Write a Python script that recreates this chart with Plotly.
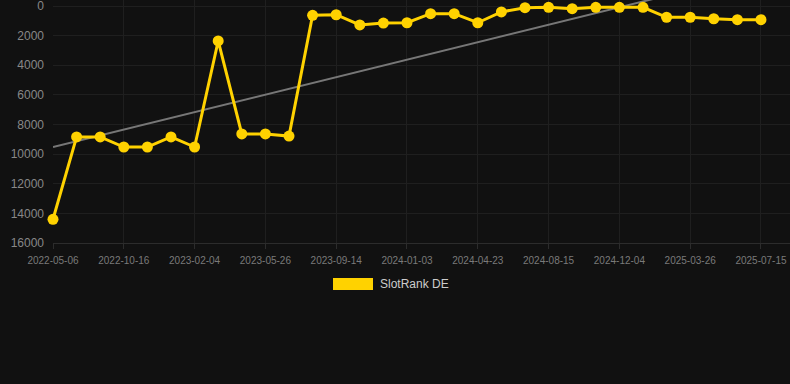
import plotly.graph_objects as go

# Data (SlotRank, lower = better; y axis reversed)
ranks = [14400, 8840, 8840, 9520, 9520, 8840, 9520, 2360, 8640, 8640,
         8780, 630, 590, 1280, 1150, 1130, 520, 520, 1130, 400,
         115, 90, 180, 90, 90, 90, 760, 760, 860, 925, 925]
tick_labels = ["2022-05-06", "2022-10-16", "2023-02-04", "2023-05-26",
               "2023-09-14", "2024-01-03", "2024-04-23", "2024-08-15",
               "2024-12-04", "2025-03-26", "2025-07-15"]
tick_step = 3
y_ticks = [0, 2000, 4000, 6000, 8000, 10000, 12000, 14000, 16000]
trend_start, trend_end = 9520, -2270
series_name = "SlotRank DE"

idx = list(range(len(ranks)))
tickvals = [i * tick_step for i in range(len(tick_labels))]

GOLD = "#FFD200"
BG = "#111111"
GRID = "#1f1f1f"

fig = go.Figure()
fig.add_trace(go.Scatter(
    x=[idx[0], idx[-1]], y=[trend_start, trend_end], mode="lines",
    line=dict(color="#777777", width=2), hoverinfo="skip", showlegend=False))
fig.add_trace(go.Scatter(
    x=idx, y=ranks, mode="lines+markers", name=series_name,
    line=dict(color=GOLD, width=3), marker=dict(color=GOLD, size=11),
    cliponaxis=False, showlegend=False))

# custom legend (filled box + label)
fig.add_shape(type="rect", xref="paper", yref="paper",
              x0=(333 - 53) / 737, x1=(373 - 53) / 737,
              y0=(243 - 290) / 243, y1=(243 - 278) / 243,
              fillcolor=GOLD, line=dict(width=0))
fig.add_annotation(text=series_name, xref="paper", yref="paper",
                   x=(378 - 53) / 737, y=(243 - 284) / 243,
                   xanchor="left", yanchor="middle", showarrow=False,
                   font=dict(size=12, color="#cccccc"))

fig.update_layout(
    width=790, height=384,
    margin=dict(l=53, r=0, t=0, b=141),
    paper_bgcolor=BG, plot_bgcolor=BG,
    font=dict(family="Liberation Sans, Arial, sans-serif", color="#888888"),
    showlegend=False,
    xaxis=dict(range=[0, 31.23], tickmode="array", tickvals=tickvals,
               ticktext=tick_labels, showgrid=True, gridcolor=GRID,
               gridwidth=1, zeroline=False, showline=True,
               linecolor="#2c2c2c", linewidth=1, ticks="outside",
               ticklen=5, tickcolor="#2c2c2c", ticklabelstandoff=3,
               tickfont=dict(size=10, color="#7a7a7a")),
    yaxis=dict(range=[16000, -405], tickmode="array",
               tickvals=y_ticks, ticktext=[str(v) for v in y_ticks],
               showgrid=True, gridcolor=GRID, gridwidth=1, zeroline=False,
               ticks="", ticklabelstandoff=8, ticklabeloverflow="allow",
               tickfont=dict(size=12, color="#888888")),
)

fig.write_html("out.html", config={"displayModeBar": False},
               post_script="document.body.style.margin='0';document.body.style.background='#111111';")
